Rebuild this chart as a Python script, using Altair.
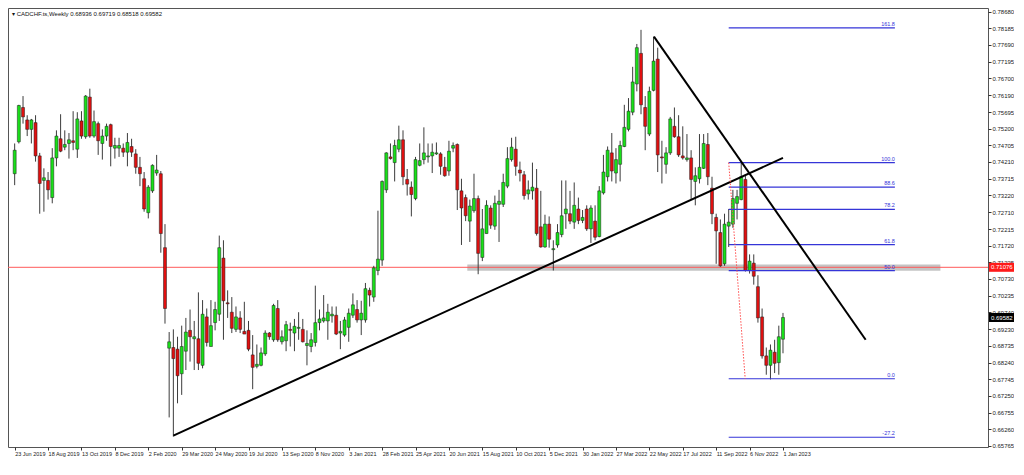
import altair as alt
import pandas as pd

# ---------------- data ----------------
title_text = "\u25BE CADCHF.ts,Weekly  0.68936 0.69719 0.68518 0.69582"

week_labels = ["23 Jun 2019", "18 Aug 2019", "13 Oct 2019", "8 Dec 2019", "2 Feb 2020",
               "29 Mar 2020", "24 May 2020", "19 Jul 2020", "13 Sep 2020", "8 Nov 2020",
               "3 Jan 2021", "28 Feb 2021", "25 Apr 2021", "20 Jun 2021", "15 Aug 2021",
               "10 Oct 2021", "5 Dec 2021", "30 Jan 2022", "27 Mar 2022", "22 May 2022",
               "17 Jul 2022", "11 Sep 2022", "6 Nov 2022", "1 Jan 2023"]
week_label_pos = [0, 8, 16, 24, 32, 40, 48, 56, 64, 72, 80, 88, 96, 104, 112, 120,
                  128, 136, 144, 152, 160, 168, 176, 184]

price_ticks = [0.78680, 0.78185, 0.77690, 0.77195, 0.76700, 0.76190, 0.75695, 0.75200,
               0.74705, 0.74210, 0.73715, 0.73220, 0.72710, 0.72215, 0.71720, 0.71225,
               0.70730, 0.70235, 0.69740, 0.69230, 0.68735, 0.68240, 0.67745, 0.67250,
               0.66755, 0.66260, 0.65765]

opens = [0.7386, 0.7481, 0.7583, 0.7546, 0.7518, 0.7538, 0.7439, 0.7366, 0.7366, 0.7315,
         0.7433, 0.7490, 0.7465, 0.7476, 0.7484, 0.7459, 0.7543, 0.7496, 0.7614, 0.7498,
         0.7535, 0.7476, 0.7498, 0.7532, 0.7462, 0.7462, 0.7462, 0.7450, 0.7467, 0.7445,
         0.7405, 0.7371, 0.7270, 0.7335, 0.7388, 0.7386, 0.7166, 0.6867, 0.6869, 0.6864,
         0.6791, 0.6858, 0.6920, 0.6895, 0.6895, 0.6816, 0.6960, 0.6872, 0.6943, 0.6968,
         0.7135, 0.7002, 0.6974, 0.6923, 0.6957, 0.6917, 0.6920, 0.6847, 0.6813, 0.6816,
         0.6850, 0.6912, 0.6892, 0.6985, 0.6886, 0.6889, 0.6923, 0.6912, 0.6926, 0.6923,
         0.6875, 0.6872, 0.6884, 0.6943, 0.6948, 0.6948, 0.6963, 0.6965, 0.6912, 0.6906,
         0.6929, 0.6965, 0.6982, 0.6951, 0.6951, 0.7039, 0.7019, 0.7098, 0.7129, 0.7338,
         0.7436, 0.7419, 0.7459, 0.7487, 0.7369, 0.7346, 0.7312, 0.7411, 0.7428, 0.7436,
         0.7439, 0.7445, 0.7445, 0.7405, 0.7394, 0.7462, 0.7473, 0.7335, 0.7315, 0.7245,
         0.7276, 0.7312, 0.7137, 0.7208, 0.7284, 0.7230, 0.7295, 0.7295, 0.7349, 0.7428,
         0.7459, 0.7397, 0.7383, 0.7326, 0.7335, 0.7343, 0.7228, 0.7168, 0.7236, 0.7160,
         0.7174, 0.7205, 0.7267, 0.7267, 0.7242, 0.7281, 0.7247, 0.7281, 0.7222, 0.7245,
         0.7199, 0.7329, 0.7377, 0.7448, 0.7388, 0.7414, 0.7467, 0.7518, 0.7569, 0.7653,
         0.7744, 0.7583, 0.7504, 0.7634, 0.7727, 0.7436, 0.7414, 0.7448, 0.7527, 0.7496,
         0.7439, 0.7428, 0.7433, 0.7363, 0.7371, 0.7402, 0.7473, 0.7343, 0.7256, 0.7211,
         0.7118, 0.7230, 0.7236, 0.7298, 0.7309, 0.7369, 0.7098, 0.7120, 0.7050, 0.6960,
         0.6844, 0.6816, 0.6855, 0.6824, 0.68936]

highs = [0.7476, 0.7591, 0.7617, 0.7560, 0.7549, 0.7560, 0.7448, 0.7402, 0.7391, 0.7462,
         0.7515, 0.7563, 0.7515, 0.7507, 0.7572, 0.7569, 0.7572, 0.7620, 0.7639, 0.7574,
         0.7541, 0.7518, 0.7535, 0.7535, 0.7493, 0.7493, 0.7476, 0.7507, 0.7490, 0.7459,
         0.7436, 0.7391, 0.7352, 0.7414, 0.7442, 0.7394, 0.7236, 0.6915, 0.6923, 0.6901,
         0.6934, 0.6957, 0.6982, 0.6948, 0.7033, 0.7010, 0.6985, 0.7010, 0.7005, 0.7202,
         0.7188, 0.7039, 0.7019, 0.6991, 0.6977, 0.7005, 0.6948, 0.6906, 0.6878, 0.6869,
         0.6920, 0.6915, 0.6999, 0.7010, 0.6920, 0.6948, 0.6943, 0.6954, 0.6974, 0.6954,
         0.6920, 0.6912, 0.7053, 0.6982, 0.7025, 0.6999, 0.6991, 0.6991, 0.6948, 0.6960,
         0.6985, 0.7030, 0.7010, 0.7008, 0.7061, 0.7047, 0.7112, 0.7276, 0.7366, 0.7450,
         0.7476, 0.7487, 0.7529, 0.7515, 0.7400, 0.7363, 0.7436, 0.7476, 0.7524, 0.7476,
         0.7476, 0.7479, 0.7450, 0.7436, 0.7484, 0.7479, 0.7476, 0.7371, 0.7324, 0.7309,
         0.7386, 0.7321, 0.7281, 0.7307, 0.7292, 0.7321, 0.7338, 0.7386, 0.7465, 0.7493,
         0.7496, 0.7422, 0.7394, 0.7366, 0.7419, 0.7400, 0.7335, 0.7264, 0.7259, 0.7188,
         0.7236, 0.7366, 0.7366, 0.7335, 0.7360, 0.7315, 0.7278, 0.7292, 0.7292, 0.7292,
         0.7349, 0.7442, 0.7467, 0.7507, 0.7462, 0.7484, 0.7591, 0.7611, 0.7704, 0.7772,
         0.7814, 0.7617, 0.7645, 0.7794, 0.7761, 0.7484, 0.7465, 0.7555, 0.7583, 0.7560,
         0.7527, 0.7504, 0.7456, 0.7405, 0.7504, 0.7504, 0.7507, 0.7377, 0.7267, 0.7250,
         0.7267, 0.7281, 0.7338, 0.7338, 0.7422, 0.7380, 0.7146, 0.7146, 0.7084, 0.6985,
         0.6869, 0.6878, 0.6892, 0.6934, 0.69719]

lows = [0.7352, 0.7476, 0.7535, 0.7498, 0.7476, 0.7422, 0.7267, 0.7273, 0.7309, 0.7298,
        0.7408, 0.7450, 0.7456, 0.7431, 0.7456, 0.7433, 0.7490, 0.7490, 0.7493, 0.7493,
        0.7442, 0.7428, 0.7484, 0.7408, 0.7431, 0.7436, 0.7436, 0.7408, 0.7436, 0.7386,
        0.7349, 0.7273, 0.7253, 0.7329, 0.7380, 0.7151, 0.6940, 0.6661, 0.6604, 0.6703,
        0.6728, 0.6802, 0.6827, 0.6802, 0.6802, 0.6807, 0.6872, 0.6872, 0.6920, 0.6948,
        0.6892, 0.6957, 0.6912, 0.6915, 0.6912, 0.6909, 0.6858, 0.6745, 0.6807, 0.6813,
        0.6844, 0.6892, 0.6886, 0.6886, 0.6878, 0.6858, 0.6872, 0.6858, 0.6892, 0.6884,
        0.6816, 0.6855, 0.6872, 0.6920, 0.6943, 0.6892, 0.6943, 0.6906, 0.6864, 0.6901,
        0.6886, 0.6957, 0.6943, 0.6906, 0.6943, 0.6991, 0.7005, 0.7084, 0.7112, 0.7329,
        0.7428, 0.7363, 0.7450, 0.7352, 0.7321, 0.7259, 0.7307, 0.7408, 0.7414, 0.7419,
        0.7388, 0.7442, 0.7383, 0.7377, 0.7380, 0.7450, 0.7278, 0.7174, 0.7245, 0.7183,
        0.7270, 0.7087, 0.7126, 0.7208, 0.7222, 0.7219, 0.7183, 0.7287, 0.7343, 0.7422,
        0.7380, 0.7363, 0.7309, 0.7309, 0.7309, 0.7202, 0.7166, 0.7166, 0.7166, 0.7098,
        0.7166, 0.7197, 0.7222, 0.7236, 0.7222, 0.7236, 0.7239, 0.7216, 0.7180, 0.7188,
        0.7197, 0.7324, 0.7363, 0.7363, 0.7357, 0.7363, 0.7465, 0.7512, 0.7560, 0.7631,
        0.7563, 0.7456, 0.7498, 0.7631, 0.7391, 0.7357, 0.7386, 0.7442, 0.7493, 0.7436,
        0.7428, 0.7422, 0.7309, 0.7292, 0.7357, 0.7400, 0.7352, 0.7236, 0.7118, 0.7109,
        0.7112, 0.7168, 0.7225, 0.7250, 0.7307, 0.7095, 0.7089, 0.7056, 0.6943, 0.6836,
        0.6788, 0.6774, 0.6793, 0.6788, 0.68518]

closes = [0.7456, 0.7589, 0.7555, 0.7518, 0.7546, 0.7439, 0.7357, 0.7374, 0.7338, 0.7433,
          0.7498, 0.7453, 0.7473, 0.7487, 0.7479, 0.7549, 0.7498, 0.7617, 0.7498, 0.7541,
          0.7484, 0.7498, 0.7527, 0.7467, 0.7470, 0.7470, 0.7450, 0.7479, 0.7450, 0.7405,
          0.7386, 0.7281, 0.7346, 0.7411, 0.7397, 0.7208, 0.6985, 0.6886, 0.6836, 0.6785,
          0.6872, 0.6915, 0.6901, 0.6901, 0.6822, 0.6968, 0.6884, 0.6934, 0.6982, 0.7166,
          0.7008, 0.6999, 0.6926, 0.6960, 0.6923, 0.6909, 0.6864, 0.6810, 0.6819, 0.6853,
          0.6912, 0.6901, 0.6994, 0.6892, 0.6901, 0.6937, 0.6920, 0.6932, 0.6929, 0.6886,
          0.6881, 0.6892, 0.6943, 0.6954, 0.6957, 0.6974, 0.6968, 0.6909, 0.6917, 0.6951,
          0.6971, 0.6996, 0.6951, 0.6971, 0.7044, 0.7025, 0.7106, 0.7132, 0.7363, 0.7448,
          0.7431, 0.7470, 0.7487, 0.7377, 0.7355, 0.7324, 0.7428, 0.7425, 0.7448, 0.7439,
          0.7450, 0.7448, 0.7408, 0.7380, 0.7453, 0.7470, 0.7338, 0.7284, 0.7261, 0.7290,
          0.7312, 0.7149, 0.7222, 0.7292, 0.7233, 0.7298, 0.7304, 0.7360, 0.7431, 0.7465,
          0.7408, 0.7388, 0.7321, 0.7338, 0.7346, 0.7208, 0.7168, 0.7236, 0.7191, 0.7163,
          0.7211, 0.7261, 0.7281, 0.7245, 0.7292, 0.7247, 0.7256, 0.7222, 0.7284, 0.7197,
          0.7335, 0.7391, 0.7456, 0.7394, 0.7428, 0.7470, 0.7524, 0.7572, 0.7659, 0.7761,
          0.7591, 0.7527, 0.7631, 0.7721, 0.7442, 0.7433, 0.7448, 0.7549, 0.7496, 0.7442,
          0.7433, 0.7433, 0.7369, 0.7380, 0.7405, 0.7476, 0.7377, 0.7267, 0.7216, 0.7112,
          0.7236, 0.7242, 0.7312, 0.7318, 0.7377, 0.7098, 0.7126, 0.7081, 0.6957, 0.6844,
          0.6816, 0.6861, 0.6822, 0.6901, 0.69582]

# horizontal support line / zone
support_price = 0.71076
zone_lo, zone_hi = 0.7097, 0.7116
zone_from, zone_to = 108.4, 221.7

# Fibonacci retracement
fib_names = ["161.8", "100.0", "88.6", "78.2", "61.8", "50.0", "0.0", "-27.2"]
fib_prices = [0.7820, 0.7419, 0.7346, 0.7280, 0.7175, 0.7098, 0.6776, 0.6602]
fib_from, fib_to = 171.0, 210.8

# trend lines (start index, start price, end index, end price)
trend_x1 = [38.0, 153.1]
trend_p1 = [0.6607, 0.7794]
trend_x2 = [184.0, 203.8]
trend_p2 = [0.7433, 0.6892]

# dotted fib base line
fibbase_x1, fibbase_p1, fibbase_x2, fibbase_p2 = 171.0, 0.7419, 174.95, 0.6776

# price tags on the axis
tag_prices = [0.71076, 0.69582]
tag_text = ["0.71076", "0.69582"]
tag_colors = ["#ff1a1a", "#000000"]

# ---------------- layout ----------------
W, H = 980, 439
XDOM = [-0.4, 231.9]
YDOM = [0.6573, 0.7879]
FONT = "Liberation Sans"
GREEN = "#19e019"
RED = "#e01010"
FIB = "#3535d8"

xs = alt.Scale(domain=XDOM, nice=False, zero=False)
ys = alt.Scale(domain=YDOM, nice=False, zero=False)

label_js = "[" + ",".join("'%s'" % s for s in week_labels) + "]"
X_AX = alt.Axis(values=week_label_pos, labelExpr=label_js + "[round(datum.value/8)]",
                title=None, grid=False, tickSize=3, tickColor="#333", labelAlign="left",
                labelBaseline="top", labelPadding=1, labelFontSize=5.5, labelColor="#222",
                labelFont=FONT, labelOverlap=False, labelFlush=False, domain=False)
Y_AX = alt.Axis(values=price_ticks, format=".5f", orient="right", title=None, grid=False,
                tickSize=3, tickColor="#333", labelPadding=1, labelFontSize=6,
                labelColor="#222", labelFont=FONT, labelOverlap=False, labelFlush=False,
                labelBaseline="middle", domain=False)

n = len(opens)
df = pd.DataFrame({"i": list(range(n)), "open": opens, "high": highs,
                   "low": lows, "close": closes})
df["dir"] = ["up" if c >= o else "down" for o, c in zip(opens, closes)]

zone = alt.Chart(pd.DataFrame({"a": [zone_from], "b": [zone_to], "lo": [zone_lo], "hi": [zone_hi]})
                 ).mark_rect(color="#c4c4c4").encode(
    x=alt.X("a:Q", scale=xs, axis=X_AX), x2="b:Q",
    y=alt.Y("lo:Q", scale=ys, axis=Y_AX), y2="hi:Q")

support = alt.Chart(pd.DataFrame({"p": [support_price]})).mark_rule(
    color="#ff5a5a", strokeWidth=1).encode(y=alt.Y("p:Q", scale=ys, axis=Y_AX))

wicks = alt.Chart(df).mark_rule(color="#3c3c3c", strokeWidth=1).encode(
    x=alt.X("i:Q", scale=xs, axis=X_AX),
    y=alt.Y("high:Q", scale=ys, axis=Y_AX), y2="low:Q")

bodies = alt.Chart(df).mark_bar(size=3, stroke="#1a1a1a", strokeWidth=0.5,
                                orient="vertical").encode(
    x=alt.X("i:Q", scale=xs, axis=X_AX),
    y=alt.Y("open:Q", scale=ys, axis=Y_AX), y2="close:Q",
    color=alt.Color("dir:N", scale=alt.Scale(domain=["up", "down"], range=[GREEN, RED]),
                    legend=None))

fib_df = pd.DataFrame({"name": fib_names, "p": fib_prices, "a": [fib_from] * len(fib_names),
                       "b": [fib_to] * len(fib_names)})
fib_lines = alt.Chart(fib_df).mark_rule(color=FIB, strokeWidth=1.2).encode(
    x=alt.X("a:Q", scale=xs, axis=X_AX), x2="b:Q",
    y=alt.Y("p:Q", scale=ys, axis=Y_AX))
fib_labels = alt.Chart(fib_df).mark_text(align="right", baseline="bottom", dy=-1,
                                         fontSize=5.5, font=FONT, color=FIB).encode(
    x=alt.X("b:Q", scale=xs, axis=X_AX), y=alt.Y("p:Q", scale=ys, axis=Y_AX), text="name:N")

trend_df = pd.DataFrame({"x1": trend_x1, "p1": trend_p1, "x2": trend_x2, "p2": trend_p2})
trends = alt.Chart(trend_df).mark_rule(color="#000000", strokeWidth=2).encode(
    x=alt.X("x1:Q", scale=xs, axis=X_AX), x2="x2:Q",
    y=alt.Y("p1:Q", scale=ys, axis=Y_AX), y2="p2:Q")

fibbase = alt.Chart(pd.DataFrame({"x1": [fibbase_x1], "p1": [fibbase_p1],
                                  "x2": [fibbase_x2], "p2": [fibbase_p2]})).mark_rule(
    color="#ff4d4d", strokeWidth=1, strokeDash=[1.5, 1.5]).encode(
    x=alt.X("x1:Q", scale=xs, axis=X_AX), x2="x2:Q",
    y=alt.Y("p1:Q", scale=ys, axis=Y_AX), y2="p2:Q")

half = 4.5 * (YDOM[1] - YDOM[0]) / H
tag_df = pd.DataFrame({"p": tag_prices, "t": tag_text, "c": tag_colors,
                       "lo": [p - half for p in tag_prices],
                       "hi": [p + half for p in tag_prices]})
tag_boxes = alt.Chart(tag_df).mark_rect().encode(
    x=alt.value(W + 1), x2=alt.value(W + 26),
    y=alt.Y("lo:Q", scale=ys, axis=Y_AX), y2="hi:Q",
    color=alt.Color("c:N", scale=None))
tag_labels = alt.Chart(tag_df).mark_text(align="left", baseline="middle", color="white",
                                         fontSize=6, font=FONT).encode(
    x=alt.value(W + 3), y=alt.Y("p:Q", scale=ys, axis=Y_AX), text="t:N")

title = alt.Chart(pd.DataFrame({"t": [title_text]})).mark_text(
    align="left", baseline="top", fontSize=6, font=FONT, color="#111").encode(
    x=alt.value(4), y=alt.value(3), text="t:N")

chart = alt.layer(zone, support, wicks, bodies, fib_lines, fib_labels, trends, fibbase,
                  tag_boxes, tag_labels, title).properties(
    width=W, height=H,
    autosize=alt.AutoSizeParams(type="none"),
    padding={"left": 0, "top": 0, "right": 26, "bottom": 13},
    background="white",
).configure_view(stroke="#555555", strokeWidth=1)

chart.save("out.html", embed_options={"renderer": "svg", "actions": False})
